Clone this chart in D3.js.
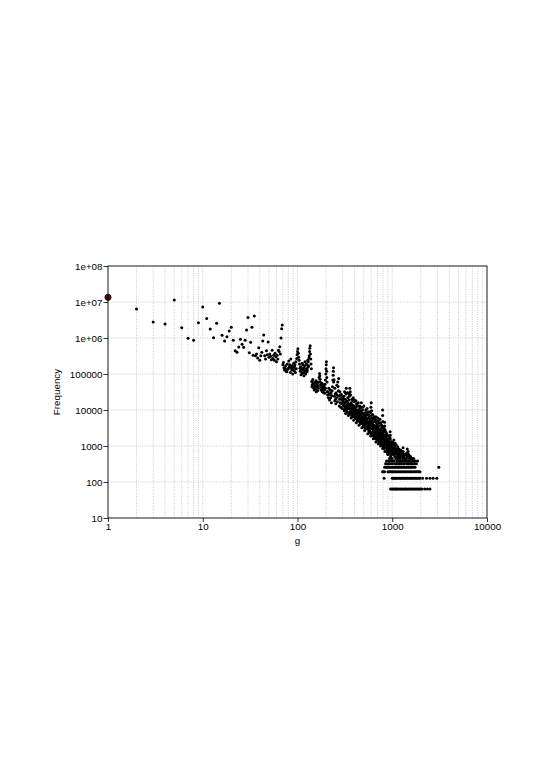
<!DOCTYPE html>
<html>
<head>
<meta charset="utf-8">
<script src="https://cdn.jsdelivr.net/npm/d3@7"></script>
<style>
  body { margin: 0; background: #fff; }
  svg text { font-family: "Liberation Sans", Arial, sans-serif; }
</style>
</head>
<body>
<div id="chart"></div>
<script>
// Axis ticks and labels
const xTicks = [1, 10, 100, 1000, 10000];
const xTickLabels = ["1", "10", "100", "1000", "10000"];
const yTicks = [10, 100, 1000, 10000, 100000, 1e6, 1e7, 1e8];
const yTickLabels = ["10", "100", "1000", "10000", "100000", "1e+06", "1e+07", "1e+08"];

// First (highlighted) point
const firstPoint = [1, 1.35e7];

// Sparse head, g = 2..69  [g, frequency]
const headPoints = [
  [2, 6.4e6], [3, 2.8e6], [4, 2.45e6], [5, 1.14e7], [6, 1.93e6], [7, 9.8e5], [8, 8.6e5], [9, 2.66e6],
  [10, 7.3e6], [11, 3.5e6], [12, 1.78e6], [13, 1.02e6], [14, 2.56e6], [15, 9.2e6], [16, 1.19e6],
  [17, 8.3e5], [18, 1.09e6], [19, 1.56e6], [20, 2.0e6], [21, 8.6e5], [22, 4.4e5], [23, 4.0e5],
  [24, 5.6e5], [25, 9.2e5], [26, 6.7e5], [27, 5.5e5], [28, 8.6e5], [29, 1.67e6], [30, 3.7e6],
  [31, 3.9e5], [32, 7.6e5], [33, 2.0e6], [34, 3.3e5], [35, 4.1e6], [36, 3.2e5], [37, 3.6e5],
  [38, 2.8e5], [39, 5.4e5], [40, 2.4e5], [41, 3.2e5], [42, 4.0e5], [43, 8.3e5], [44, 1.21e6],
  [45, 3.2e5], [46, 2.6e5], [47, 4.4e5], [48, 3.4e5], [49, 7.7e5], [50, 2.9e5], [51, 3.6e5],
  [52, 3.1e5], [53, 2.5e5], [54, 4.6e5], [55, 2.7e5], [56, 3.3e5], [57, 2.4e5], [58, 3.8e5],
  [59, 3.0e5], [60, 2.2e5], [61, 3.3e5], [62, 2.6e5], [63, 4.6e5], [64, 4.2e5], [65, 5.7e5],
  [66, 3.6e5], [67, 1.0e6], [68, 1.8e6], [69, 2.3e6]
];

// Main cloud, g = 70..850
const cloudPoints = [
  [70, 1.8e5], [71, 2.1e5], [72, 1.5e5], [73, 1.3e5], [74, 1.44e5], [75, 1.7e5], [76, 1.2e5], [77, 1.16e5],
  [78, 1.9e5], [79, 1.35e5], [80, 1.44e5], [81, 2.3e5], [82, 1.6e5], [83, 1.8e5], [84, 1.1e5], [85, 2.6e5],
  [86, 1.5e5], [87, 1.3e5], [88, 1.7e5], [89, 1.0e5], [90, 1.44e5], [91, 2.0e5], [92, 1.25e5], [93, 1.6e5],
  [94, 1.8e5], [95, 1.1e5], [96, 2.2e5], [97, 1.4e5], [98, 2.7e5],
  [99, 3.4e5], [100, 4.2e5], [101, 5.0e5], [102, 3.8e5], [103, 2.9e5], [104, 2.4e5], [105, 1.9e5],
  [106, 1.44e5], [107, 1.2e5], [108, 1.6e5], [109, 9.5e4], [110, 1.16e5], [111, 1.35e5], [112, 2.0e5],
  [113, 1.05e5], [114, 1.8e5], [115, 1.3e5], [116, 1.5e5], [117, 9.0e4], [118, 1.1e5], [119, 1.7e5],
  [120, 2.2e5], [121, 1.25e5], [122, 1.0e5], [123, 1.4e5], [124, 1.9e5], [125, 1.8e5], [126, 1.15e5],
  [127, 1.3e5], [128, 2.4e5], [129, 1.55e5], [130, 2.2e5], [131, 1.7e5], [132, 2.8e5], [133, 3.2e5],
  [134, 4.2e5], [135, 5.2e5], [136, 6.1e5], [137, 3.6e5], [138, 2.6e5], [139, 1.9e5], [140, 1.4e5],
  [141, 6.2e4], [142, 4.4e4], [143, 5.0e4], [145, 7.0e4], [146, 5.6e4], [147, 4.9e4], [149, 4.0e4],
  [150, 3.6e4], [151, 5.8e4], [153, 5.5e4], [154, 4.6e4], [155, 3.8e4], [157, 6.5e4], [158, 3.2e4],
  [159, 4.4e4], [161, 5.2e4], [162, 5.8e4], [163, 3.4e4], [165, 4.6e4], [166, 4.0e4], [167, 6.0e4],
  [169, 8.0e4], [171, 1.04e5], [172, 9.0e4], [173, 7.2e4], [174, 6.0e4], [175, 5.0e4], [177, 3.6e4],
  [178, 4.6e4], [179, 4.2e4], [181, 5.5e4], [182, 3.8e4], [183, 3.2e4], [185, 4.8e4], [186, 3.4e4],
  [187, 4.0e4], [189, 3.0e4], [190, 5.0e4], [191, 4.4e4], [193, 3.6e4], [194, 2.9e4], [195, 5.2e4],
  [197, 6.8e4], [198, 4.0e4], [199, 1.0e5], [200, 1.4e5], [201, 1.8e5], [202, 2.2e5], [203, 1.2e5],
  [204, 8.0e4], [205, 6.0e4],
  [206, 3.2e4], [208, 2.6e4], [210, 3.2e4], [212, 2.2e4], [214, 4.0e4], [216, 2.8e4], [218, 1.9e4],
  [220, 2.7e4], [222, 3.6e4], [224, 2.2e4], [226, 3.0e4], [228, 1.6e4], [230, 2.5e4], [232, 3.4e4],
  [234, 4.4e4], [236, 6.8e4], [238, 9.3e4], [239, 1.2e5], [240, 1.5e5], [241, 6.0e4], [243, 6.9e4],
  [245, 2.4e4], [247, 1.8e4], [248, 4.0e4], [250, 2.8e4], [252, 2.0e4], [254, 1.5e4], [256, 3.0e4],
  [258, 2.2e4], [260, 4.9e4], [262, 2.6e4], [264, 1.7e4], [266, 6.0e4], [268, 4.5e4], [270, 3.4e4],
  [272, 7.5e4], [274, 2.4e4], [276, 1.3e4], [278, 2.0e4], [280, 3.2e4], [282, 1.6e4], [284, 2.6e4],
  [286, 1.2e4], [288, 2.1e4], [290, 2.7e4], [292, 1.5e4], [294, 1.9e4], [296, 1.1e4], [298, 2.3e4],
  [300, 2.1e4],
  [303, 1.7e4], [305, 2.0e4], [306, 1.3e4], [309, 2.4e4], [311, 1.4e4], [312, 1.0e4], [315, 1.6e4],
  [317, 1.1e4], [318, 2.0e4], [321, 3.0e4], [323, 1.7e4], [324, 1.2e4], [327, 4.0e4], [329, 1.3e4],
  [330, 1.8e4], [333, 9.0e3], [335, 1.7e4], [336, 1.4e4], [339, 2.2e4], [341, 1.5e4], [342, 1.1e4],
  [345, 1.5e4], [347, 1.2e4], [348, 8.0e3], [351, 1.9e4], [353, 1.1e4], [354, 2.8e4], [357, 4.0e4],
  [359, 9.0e3], [360, 3.2e4], [363, 1.2e4], [365, 1.3e4], [366, 9.5e3], [369, 1.6e4], [371, 1.0e4],
  [372, 7.0e3], [375, 1.1e4], [377, 8.0e3], [378, 1.4e4], [381, 8.5e3], [383, 1.2e4], [384, 1.8e4],
  [387, 6.5e3], [389, 8.5e3], [390, 1.0e4], [393, 1.3e4], [395, 1.05e4], [396, 7.5e3], [400, 1.9e4],
  [402, 1.2e4], [404, 9.0e3], [408, 6.0e3], [410, 8.5e3], [412, 1.2e4], [416, 8.0e3], [418, 1.0e4],
  [420, 1.5e4], [424, 5.5e3], [426, 7.8e3], [428, 1.0e4], [432, 7.0e3], [434, 9.0e3], [436, 1.3e4],
  [440, 5.0e3], [442, 7.0e3], [444, 8.5e3], [448, 6.5e3], [450, 6.0e3], [452, 1.1e4], [456, 4.6e3],
  [458, 8.0e3], [460, 7.5e3], [464, 9.5e3], [466, 6.8e3], [468, 5.5e3], [472, 1.6e4], [474, 5.0e3],
  [476, 6.0e3], [480, 4.2e3], [482, 6.5e3], [484, 8.0e3], [488, 1.2e4], [490, 6.0e3], [492, 5.0e3],
  [496, 3.6e3], [498, 5.2e3], [500, 7.0e3],
  [505, 4.5e3], [508, 5.5e3], [510, 8.0e3], [515, 3.2e3], [518, 4.5e3], [520, 6.0e3], [525, 1.0e4],
  [528, 6.8e3], [530, 4.0e3], [535, 5.5e3], [538, 4.2e3], [540, 7.5e3], [545, 3.0e3], [548, 5.8e3],
  [550, 4.8e3], [555, 9.0e3], [558, 4.0e3], [560, 3.6e3], [565, 2.6e3], [568, 3.2e3], [570, 6.5e3],
  [575, 4.2e3], [578, 5.8e3], [580, 5.0e3], [585, 2.4e3], [588, 3.8e3], [590, 8.5e3], [595, 1.2e4],
  [598, 4.4e3], [600, 1.6e4], [605, 9.5e3], [608, 3.0e3], [610, 6.0e3], [615, 3.4e3], [618, 4.0e3],
  [620, 2.0e3], [625, 4.5e3], [628, 3.4e3], [630, 2.8e3], [635, 5.5e3], [638, 2.6e3], [640, 1.8e3],
  [645, 3.8e3], [648, 3.0e3], [650, 2.4e3], [655, 4.8e3], [658, 2.0e3], [660, 3.0e3], [665, 1.6e3],
  [668, 2.8e3], [670, 6.5e3], [675, 2.2e3], [678, 2.4e3], [680, 3.4e3], [685, 4.2e3], [688, 2.0e3],
  [690, 1.5e3], [695, 2.6e3], [698, 3.0e3], [700, 3.8e3], [705, 1.9e3], [708, 2.4e3], [710, 5.0e3],
  [715, 2.9e3], [718, 1.8e3], [720, 1.3e3], [725, 2.2e3], [728, 2.8e3], [730, 3.6e3], [735, 1.7e3],
  [738, 2.0e3], [740, 2.5e3], [745, 1.2e3], [748, 1.6e3], [750, 4.4e3], [755, 2.0e3], [758, 2.6e3],
  [760, 3.0e3], [765, 1.4e3], [768, 1.9e3], [770, 2.3e3], [775, 1.1e3], [778, 1.5e3], [780, 3.2e3],
  [785, 1.8e3], [788, 2.2e3], [790, 1.0e4], [792, 7.0e3], [794, 4.8e3], [796, 3.4e3], [798, 2.4e3],
  [800, 1.6e3], [805, 1.0e3], [808, 1.8e3], [810, 2.7e3], [815, 1.3e3], [818, 1.5e3], [820, 2.0e3],
  [825, 850], [828, 1.2e3], [830, 4.6e3], [832, 3.6e3], [834, 2.5e3], [838, 1.9e3], [840, 1.5e3],
  [845, 1.1e3], [848, 1.4e3], [850, 2.1e3]
];

// Extra cloud points along the lower edge, upper edge and middle, g = 310..850
const cloudLow = [
  [312, 9.5e3], [322, 8.0e3], [332, 1.0e4], [344, 7.0e3], [356, 8.5e3], [368, 6.0e3], [380, 7.0e3],
  [392, 5.2e3], [406, 6.0e3], [418, 4.4e3], [430, 5.0e3], [446, 3.8e3], [462, 4.2e3], [478, 3.2e3],
  [494, 3.6e3], [512, 2.7e3], [532, 3.0e3], [552, 2.2e3], [572, 2.5e3], [592, 1.9e3], [612, 2.1e3],
  [632, 1.6e3], [652, 1.8e3], [672, 1.3e3], [692, 1.5e3], [712, 1.15e3], [732, 1.3e3], [752, 1.0e3],
  [772, 1.1e3], [792, 850], [812, 960], [836, 704]
];
const cloudHigh = [
  [314, 3.2e4], [326, 2.8e4], [338, 3.0e4], [352, 2.4e4], [364, 2.6e4], [376, 2.0e4], [388, 2.2e4],
  [398, 1.7e4], [414, 1.8e4], [422, 1.4e4], [438, 1.6e4], [454, 1.3e4], [470, 1.2e4], [486, 1.0e4],
  [502, 1.3e4], [522, 8.5e3], [542, 1.1e4], [562, 7.5e3], [582, 9.0e3], [602, 7.0e3], [622, 7.5e3],
  [642, 6.5e3], [662, 5.5e3], [682, 5.0e3], [702, 6.0e3], [722, 4.4e3], [742, 5.5e3], [762, 4.0e3],
  [782, 3.6e3], [802, 3.4e3], [822, 3.0e3], [842, 2.8e3]
];
const cloudMid = [
  [316, 1.3e4], [328, 1.1e4], [340, 1.25e4], [356, 1.4e4], [362, 8.0e3], [374, 1.2e4], [386, 9.5e3],
  [398, 7.0e3], [406, 1.05e4], [414, 6.5e3], [422, 9.0e3], [430, 6.0e3], [446, 9.5e3], [462, 5.5e3],
  [478, 8.5e3], [494, 4.8e3], [506, 6.5e3], [514, 4.0e3], [526, 5.0e3], [536, 3.4e3], [546, 4.5e3],
  [556, 3.0e3], [566, 4.6e3], [576, 2.7e3], [586, 3.2e3], [596, 2.2e3], [606, 5.0e3], [616, 2.4e3],
  [626, 3.6e3], [636, 2.2e3], [646, 2.6e3], [656, 1.8e3], [666, 3.4e3], [676, 1.7e3], [686, 2.6e3],
  [696, 1.6e3], [706, 3.2e3], [716, 1.4e3], [726, 1.9e3], [736, 2.4e3], [746, 1.4e3], [756, 1.6e3],
  [766, 2.8e3], [776, 1.3e3], [786, 1.2e3], [802, 1.2e3], [814, 1.0e3], [826, 1.6e3], [842, 900],
  [846, 1.8e3]
];

// Tail, g = 852..1850
const tailPoints = [
  [852, 1600], [856, 2400], [860, 1200], [864, 896], [868, 1800], [872, 704], [876, 2200], [880, 1024],
  [884, 1500], [888, 640], [892, 1280], [896, 832], [900, 1920], [905, 1152], [910, 576], [915, 960],
  [920, 1408], [925, 768], [930, 1088], [935, 448], [940, 1728], [945, 896], [950, 2500], [952, 2000],
  [954, 1600], [956, 1216], [958, 640], [960, 512], [965, 384], [970, 1024], [975, 704], [980, 1344],
  [985, 576], [990, 832], [995, 448], [1000, 1152], [1010, 640], [1020, 960], [1030, 384], [1040, 1472],
  [1050, 768], [1060, 512], [1070, 1200], [1075, 1000], [1080, 832], [1085, 640], [1090, 448], [1095, 320],
  [1100, 1088], [1110, 576], [1120, 704], [1130, 384], [1140, 960], [1150, 448], [1160, 640], [1170, 320],
  [1180, 832], [1190, 512], [1200, 384], [1210, 704], [1220, 448], [1230, 576], [1240, 320], [1250, 640],
  [1260, 384], [1280, 512], [1300, 896], [1305, 704], [1310, 448], [1330, 320], [1350, 576], [1370, 384],
  [1400, 448], [1420, 640], [1440, 832], [1445, 576], [1460, 384], [1470, 704], [1480, 320], [1500, 448],
  [1530, 384], [1560, 512], [1600, 320], [1640, 384], [1680, 448], [1720, 320], [1760, 384], [1800, 320],
  [1850, 384],
  [858, 1344], [866, 1088], [874, 1472], [882, 768], [890, 1216], [898, 576], [908, 1600], [918, 704],
  [928, 1280], [938, 832], [948, 1024], [962, 896], [972, 1216], [982, 768], [992, 1088], [1005, 832],
  [1015, 1280], [1025, 704], [1035, 576], [1045, 896], [1055, 1088], [1065, 640], [1078, 768], [1098, 704],
  [1115, 832], [1135, 512], [1155, 768], [1175, 576], [1195, 640], [1215, 512], [1235, 768], [1265, 576],
  [1290, 640], [1320, 512], [1360, 448], [1390, 576], [1430, 512], [1490, 576], [1520, 512], [1580, 448],
  [1620, 448], [1700, 384]
];

// Low-count bands: frequency level and the g values sitting on it
const bandFreqs = [64, 128, 192, 256, 320, 384];
const bandGs = [
  [960, 990, 1020, 1050, 1080, 1110, 1140, 1180, 1220, 1260, 1300, 1340, 1380, 1420, 1470, 1520, 1570,
   1620, 1680, 1740, 1800, 1860, 1920, 1990, 2060, 2200, 2350, 2500],
  [820, 1000, 1030, 1060, 1090, 1120, 1160, 1200, 1240, 1280, 1320, 1360, 1400, 1450, 1500, 1550, 1600,
   1650, 1710, 1770, 1830, 1900, 1960, 2090, 2300, 2500, 2700, 2950],
  [790, 810, 830, 900, 930, 960, 990, 1020, 1050, 1080, 1110, 1150, 1190, 1230, 1270, 1310, 1350, 1400,
   1450, 1500, 1550, 1600, 1660, 1720, 1780, 1840, 1900, 1960],
  [830, 860, 890, 920, 950, 980, 1010, 1045, 1080, 1115, 1150, 1190, 1230, 1270, 1310, 1350, 1400, 1450,
   1500, 1550, 1600, 1660, 1740, 3100],
  [850, 880, 910, 940, 1000, 1060, 1120, 1190, 1260, 1340, 1420, 1500, 1580, 1650],
  [870, 920, 990, 1050, 1130, 1210, 1290, 1380, 1460, 1550]
];

const bandPoints = [];
bandFreqs.forEach((f, i) => bandGs[i].forEach(g => bandPoints.push([g, f])));
const points = headPoints.concat(cloudPoints, cloudLow, cloudHigh, cloudMid, tailPoints, bandPoints);

const margin = { top: 266, right: 58, bottom: 258, left: 108 };
const width = 545 - margin.left - margin.right;
const height = 776 - margin.top - margin.bottom;

const svg = d3.select("#chart").append("svg")
  .attr("width", 545)
  .attr("height", 776);

const g = svg.append("g")
  .attr("transform", `translate(${margin.left},${margin.top})`);

const x = d3.scaleLog().domain([1, 10000]).range([0, width]);
const y = d3.scaleLog().domain([10, 1e8]).range([height, 0]);

// Grid: every minor step on x, decades on y
const xGrid = [];
for (let e = 0; e < 4; e++) for (let m = 1; m <= 9; m++) xGrid.push(m * Math.pow(10, e));

g.append("g")
  .selectAll("line")
  .data(xGrid.slice(1))
  .enter().append("line")
  .attr("x1", d => x(d)).attr("x2", d => x(d))
  .attr("y1", 0).attr("y2", height)
  .attr("stroke", "#b4b4b4")
  .attr("stroke-width", 0.7)
  .attr("stroke-dasharray", "1,1.3");

g.append("g")
  .selectAll("line")
  .data(yTicks.slice(1, -1))
  .enter().append("line")
  .attr("x1", 0).attr("x2", width)
  .attr("y1", d => y(d)).attr("y2", d => y(d))
  .attr("stroke", "#b4b4b4")
  .attr("stroke-width", 0.7)
  .attr("stroke-dasharray", "1,1.3");

// Points
g.append("g")
  .selectAll("circle")
  .data(points)
  .enter().append("circle")
  .attr("cx", d => x(d[0]))
  .attr("cy", d => y(d[1]))
  .attr("r", 1.5)
  .attr("fill", "#000");

g.append("circle")
  .attr("cx", x(firstPoint[0]))
  .attr("cy", y(firstPoint[1]))
  .attr("r", 3.1)
  .attr("fill", "#5a1010")
  .attr("stroke", "#1a0000")
  .attr("stroke-width", 0.8);

// Frame
g.append("rect")
  .attr("width", width)
  .attr("height", height)
  .attr("fill", "none")
  .attr("stroke", "#000")
  .attr("stroke-width", 0.9);

// Axes
const xAxis = g.append("g")
  .attr("transform", `translate(0,${height})`)
  .call(d3.axisBottom(x).tickValues(xTicks)
    .tickFormat((d, i) => xTickLabels[i]).tickSize(4).tickPadding(1.5));

const yAxis = g.append("g")
  .call(d3.axisLeft(y).tickValues(yTicks)
    .tickFormat((d, i) => yTickLabels[i]).tickSize(4.5).tickPadding(1));

[xAxis, yAxis].forEach(a => {
  a.select(".domain").remove();
  a.selectAll("line").attr("stroke", "#000").attr("stroke-width", 0.8);
  a.selectAll("text")
    .style("font-size", "9.8px")
    .attr("fill", "#000");
});

// Axis titles
g.append("text")
  .attr("x", width / 2)
  .attr("y", height + 26)
  .style("text-anchor", "middle")
  .style("font-size", "9.8px")
  .text("g");

g.append("text")
  .attr("transform", "rotate(-90)")
  .attr("x", -height / 2)
  .attr("y", -48)
  .style("text-anchor", "middle")
  .style("font-size", "9.8px")
  .text("Frequency");
</script>
</body>
</html>
